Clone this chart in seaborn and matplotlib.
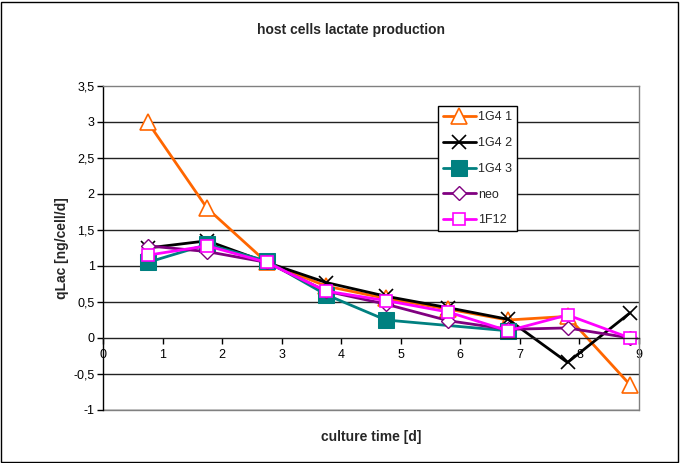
import matplotlib
matplotlib.use("Agg")
import matplotlib.pyplot as plt
import seaborn as sns
import numpy as np
import pandas as pd
from matplotlib.patches import Rectangle

sns.set_theme(style="white")
plt.rcParams['font.family'] = ['Liberation Sans', 'DejaVu Sans']

# ---- data ----
series_names = ["1G4 1", "1G4 2", "1G4 3", "neo", "1F12"]
time_1g4_1 = [0.75, 1.75, 2.75, 3.75, 4.75, 5.8, 6.8, 7.8, 8.85]
qlac_1g4_1 = [3.0, 1.8, 1.05, 0.72, 0.55, 0.40, 0.25, 0.30, -0.65]
time_1g4_2 = [0.75, 1.75, 2.75, 3.75, 4.75, 5.8, 6.8, 7.8, 8.85]
qlac_1g4_2 = [1.25, 1.35, 1.05, 0.77, 0.58, 0.42, 0.26, -0.34, 0.35]
time_1g4_3 = [0.75, 1.75, 2.75, 3.75, 4.75, 6.8]
qlac_1g4_3 = [1.05, 1.30, 1.07, 0.60, 0.25, 0.10]
time_neo = [0.75, 1.75, 2.75, 3.75, 4.75, 5.8, 6.8, 7.8, 8.85]
qlac_neo = [1.28, 1.20, 1.05, 0.65, 0.47, 0.24, 0.12, 0.14, 0.0]
time_1f12 = [0.75, 1.75, 2.75, 3.75, 4.75, 5.8, 6.8, 7.8, 8.85]
qlac_1f12 = [1.15, 1.28, 1.05, 0.65, 0.52, 0.36, 0.10, 0.32, 0.0]

y_ticks = [-1, -0.5, 0, 0.5, 1, 1.5, 2, 2.5, 3, 3.5]
y_tick_labels = ["-1", "-0,5", "0", "0,5", "1", "1,5", "2", "2,5", "3", "3,5"]
x_ticks = [0, 1, 2, 3, 4, 5, 6, 7, 8, 9]

styles = {
    "1G4 1": dict(color="#FF6600", marker="^", markersize=11, markerfacecolor="white",
                  markeredgecolor="#FF6600", markeredgewidth=1.2),
    "1G4 2": dict(color="black", marker="x", markersize=10, markeredgecolor="black",
                  markeredgewidth=1.2),
    "1G4 3": dict(color="#008080", marker="s", markersize=12, markerfacecolor="#008080",
                  markeredgecolor="#008080"),
    "neo": dict(color="#800080", marker="D", markersize=7, markerfacecolor="white",
                markeredgecolor="#800080", markeredgewidth=1.0),
    "1F12": dict(color="#FF00FF", marker="s", markersize=9, markerfacecolor="white",
                 markeredgecolor="#FF00FF", markeredgewidth=1.2),
}
data = {
    "1G4 1": (time_1g4_1, qlac_1g4_1),
    "1G4 2": (time_1g4_2, qlac_1g4_2),
    "1G4 3": (time_1g4_3, qlac_1g4_3),
    "neo": (time_neo, qlac_neo),
    "1F12": (time_1f12, qlac_1f12),
}

fig = plt.figure(figsize=(6.8, 4.63), dpi=100)
fig.patch.set_facecolor("white")
ax = fig.add_axes([103/680, 1-410/463, 536/680, 324/463])
ax.set_facecolor("white")

for name in series_names:
    xs, ys = data[name]
    df = pd.DataFrame({"t": xs, "q": ys})
    sns.lineplot(data=df, x="t", y="q", ax=ax, label=name, linewidth=2,
                 estimator=None, sort=False, **styles[name])

ax.set_xlim(0, 9)
ax.set_ylim(-1, 3.5)
ax.set_yticks(y_ticks)
ax.set_yticklabels(y_tick_labels)
ax.set_xticks(x_ticks)
ax.set_xticklabels([str(v) for v in x_ticks])

for yv in y_ticks[:-1]:
    if yv != 0:
        ax.axhline(yv, color="#222222", linewidth=1.0, zorder=0.5)

ax.spines['left'].set_color("black")
ax.spines['left'].set_linewidth(1.0)
ax.spines['bottom'].set_position(('data', 0))
ax.spines['bottom'].set_color("#222222")
ax.spines['bottom'].set_linewidth(1.0)
for s in ['top', 'right']:
    ax.spines[s].set_color("#808080")
    ax.spines[s].set_linewidth(1.0)
    ax.spines[s].set_visible(True)
ax.plot([0, 9], [-1, -1], color="#808080", linewidth=1.0, clip_on=False, zorder=0.4)

ax.tick_params(axis='y', direction='out', length=4, width=1, color='black',
               labelsize=9, pad=2, left=True)
ax.tick_params(axis='x', direction='out', length=4, width=1, color='black',
               labelsize=9, pad=4, bottom=True)
for lab in ax.get_xticklabels() + ax.get_yticklabels():
    lab.set_color("black")

ax.set_xlabel("")
ax.set_ylabel("")
fig.text(371/680, 1-437/463, "culture time [d]", ha="center", va="center",
         fontsize=10, fontweight="bold")
fig.text(62/680, 1-248/463, "qLac [ng/cell/d]", ha="center", va="center",
         fontsize=10, fontweight="bold", rotation=90)
fig.text(351/680, 1-30/463, "host cells lactate production", ha="center", va="center",
         fontsize=10, fontweight="bold")

leg = ax.legend(loc="upper left", bbox_to_anchor=(0.625, 0.937), fontsize=9,
                frameon=True, fancybox=False, edgecolor="black", framealpha=1,
                handlelength=2.6, handletextpad=0.2, labelspacing=1.1,
                borderpad=0.4, borderaxespad=0)
leg.get_frame().set_linewidth(1.0)

fig.add_artist(Rectangle((1/680, 1/463), 677/680, 460/463, transform=fig.transFigure,
                         fill=False, edgecolor="black", linewidth=1.0))

fig.savefig("out.png", dpi=100)
